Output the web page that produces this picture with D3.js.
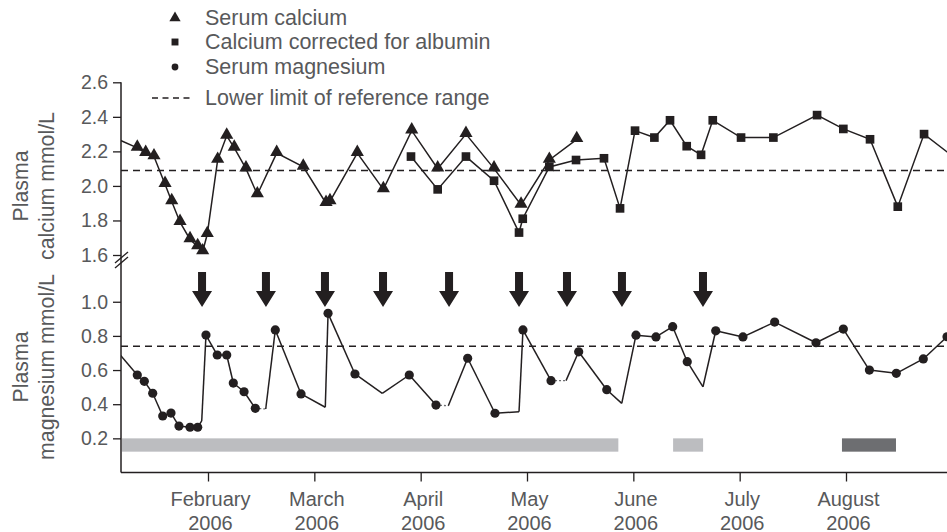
<!DOCTYPE html>
<html><head><meta charset="utf-8">
<script src="https://cdn.jsdelivr.net/npm/d3@7"></script>
<style>body{margin:0;background:#fff}svg{display:block}text{font-family:"Liberation Sans",Arial,sans-serif;fill:#58595b}</style>
</head><body><svg id="c" width="947" height="532"></svg>
<script>
// ---- data (x = month number, 2 = February 2006) ----
const monthTicks = [2,3,4,5,6,7,8];
const monthLabels = ["February","March","April","May","June","July","August"];
const yearLabel = "2006";
const caTicks = [1.6,1.8,2.0,2.2,2.4,2.6];
const mgTicks = [0.2,0.4,0.6,0.8,1.0];

const caDates  = [1.10,1.335,1.414,1.492,1.596,1.659,1.737,1.831,1.903,1.950,1.993,2.091,2.176,2.247,2.357,2.464,2.646,2.896,3.110,3.147,3.404,3.649,3.916,4.160,4.426,4.690,4.944,5.210,5.468];
const caValues = [2.285,2.22,2.19,2.17,2.01,1.91,1.79,1.69,1.65,1.62,1.72,2.15,2.29,2.22,2.10,1.95,2.19,2.11,1.90,1.91,2.19,1.98,2.32,2.10,2.30,2.10,1.89,2.15,2.27];

const corrDates  = [3.909,4.160,4.426,4.690,4.925,4.960,5.210,5.461,5.724,5.875,6.016,6.198,6.345,6.502,6.637,6.747,7.013,7.317,7.728,7.975,8.226,8.487,8.734,9.07];
const corrValues = [2.17,1.98,2.17,2.03,1.73,1.81,2.11,2.15,2.16,1.87,2.32,2.28,2.38,2.23,2.18,2.38,2.28,2.28,2.41,2.33,2.27,1.88,2.30,2.14];

const mgDates  = [1.10,1.335,1.401,1.480,1.574,1.652,1.727,1.831,1.903,1.941,1.981,2.087,2.176,2.238,2.339,2.445,2.543,2.633,2.875,3.103,3.129,3.382,3.639,3.893,4.144,4.260,4.442,4.699,4.925,4.962,5.226,5.367,5.486,5.750,5.891,6.025,6.213,6.370,6.507,6.655,6.775,7.031,7.329,7.718,7.975,8.220,8.473,8.727,8.950];
const mgValues = [0.742,0.571,0.534,0.464,0.331,0.348,0.272,0.265,0.265,0.302,0.805,0.688,0.688,0.524,0.473,0.376,0.372,0.835,0.460,0.382,0.932,0.577,0.464,0.571,0.395,0.391,0.669,0.347,0.356,0.835,0.538,0.538,0.707,0.485,0.405,0.804,0.794,0.854,0.649,0.502,0.830,0.794,0.881,0.760,0.840,0.600,0.581,0.665,0.795];
const mgMeasured = [1,1,1,1,1,1,1,1,1,0,1,1,1,1,1,1,0,1,1,0,1,1,0,1,1,0,1,1,0,1,1,0,1,1,0,1,1,1,1,0,1,1,1,1,1,1,1,1,1];
const mgDottedFrom = [15,24,30];

const arrowDates = [1.944,2.545,3.100,3.646,4.267,4.925,5.376,5.893,6.655];
const barStart = [1.191,6.374,7.962];
const barEnd   = [5.859,6.656,8.470];
const barKind  = ["light","light","dark"];

const caLowerLimit = 2.09;
const mgLowerLimit = 0.74;

const legendLabels = ["Serum calcium","Calcium corrected for albumin","Serum magnesium","Lower limit of reference range"];

// ---- layout ----
const svg = d3.select("#c");
const x = d3.scaleLinear().domain([2,8]).range([208,846]);
const X0 = 121, X1 = 947;
const yCa = d3.scaleLinear().domain([1.6,2.6]).range([255,82.3]);
const yMg = d3.scaleLinear().domain([0,1.0]).range([472.5,301.75]);
const ink = "#231f20";
const FONT = "Liberation Sans, Arial, sans-serif";

svg.append("defs").append("clipPath").attr("id","clip")
  .append("rect").attr("x",X0).attr("y",0).attr("width",X1-X0).attr("height",532);

// bars
const barColor = {light:"#bcbdc0", dark:"#6d6e71"};
svg.append("g").selectAll("rect").data(barStart).join("rect")
  .attr("x",(d)=>x(d)).attr("width",(d,i)=>x(barEnd[i])-x(d))
  .attr("y",yMg(0.2)).attr("height",yMg(0.122)-yMg(0.2))
  .attr("fill",(d,i)=>barColor[barKind[i]]);

// reference lines
[[yCa,caLowerLimit],[yMg,mgLowerLimit]].forEach(([s,v])=>{
  svg.append("line").attr("x1",X0).attr("x2",X1).attr("y1",s(v)).attr("y2",s(v))
    .attr("stroke",ink).attr("stroke-width",1.5).attr("stroke-dasharray","7,5");
});

// axes
const axG = svg.append("g");
axG.append("line").attr("x1",X0).attr("x2",X0).attr("y1",yCa(2.6)).attr("y2",yMg(0)).attr("stroke",ink).attr("stroke-width",1.5);
axG.append("line").attr("x1",X0).attr("x2",X1).attr("y1",yMg(0)).attr("y2",yMg(0)).attr("stroke",ink).attr("stroke-width",1.5);
[0,5].forEach(o=>{
  axG.append("line").attr("x1",X0-6).attr("y1",268-o).attr("x2",X0+7).attr("y2",257-o)
    .attr("stroke",ink).attr("stroke-width",1.3);
});
const yAxisCa = d3.axisLeft(yCa).tickValues(caTicks).tickFormat(d3.format(".1f")).tickSize(8).tickPadding(5);
const yAxisMg = d3.axisLeft(yMg).tickValues(mgTicks).tickFormat(d3.format(".1f")).tickSize(8).tickPadding(5);
[yAxisCa,yAxisMg].forEach(a=>{
  const g = svg.append("g").attr("transform",`translate(${X0},0)`).call(a);
  g.select(".domain").remove();
  g.selectAll("line").attr("stroke",ink).attr("stroke-width",1.3);
  g.selectAll("text").attr("font-size",19.5).attr("fill","#58595b").attr("font-family",FONT);
});
const xg = svg.append("g").attr("transform",`translate(0,${yMg(0)})`)
  .call(d3.axisBottom(x).tickValues(monthTicks).tickSize(9).tickFormat(()=>""));
xg.select(".domain").remove();
xg.selectAll("line").attr("stroke",ink).attr("stroke-width",1.3);
xg.selectAll(".tick").each(function(d,i){
  const t = d3.select(this).append("text").attr("text-anchor","middle").attr("font-size",20)
    .attr("fill","#58595b").attr("font-family",FONT);
  t.append("tspan").attr("x",2).attr("y",33).text(monthLabels[i]);
  t.append("tspan").attr("x",2).attr("y",57).text(yearLabel);
});

// y titles
function yTitle(cy, l1, l2){
  const t = svg.append("text").attr("transform",`translate(0,${cy}) rotate(-90)`)
    .attr("text-anchor","middle").attr("font-size",21.3);
  t.append("tspan").attr("x",0).attr("y",28).text(l1);
  t.append("tspan").attr("x",0).attr("y",54).text(l2);
}
yTitle(186,"Plasma","calcium mmol/L");
yTitle(367,"Plasma","magnesium mmol/L");

// data
const plot = svg.append("g").attr("clip-path","url(#clip)");
const line = d3.line();
plot.append("path").attr("d",line(caDates.map((d,i)=>[x(d),yCa(caValues[i])])))
  .attr("fill","none").attr("stroke",ink).attr("stroke-width",1.5);
plot.append("path").attr("d",line(corrDates.map((d,i)=>[x(d),yCa(corrValues[i])])))
  .attr("fill","none").attr("stroke",ink).attr("stroke-width",1.5);
for(let i=0;i<mgDates.length-1;i++){
  const dotted = mgDottedFrom.includes(i);
  plot.append("line").attr("x1",x(mgDates[i])).attr("y1",yMg(mgValues[i]))
    .attr("x2",x(mgDates[i+1])).attr("y2",yMg(mgValues[i+1]))
    .attr("stroke",dotted?"#6d6e71":ink).attr("stroke-width",dotted?1.3:1.5)
    .attr("stroke-dasharray",dotted?"2,2":null);
}
const tri = d3.symbol().type(d3.symbolTriangle).size(75);
const sq = d3.symbol().type(d3.symbolSquare).size(75);
plot.selectAll(".tri").data(caDates).join("path").attr("class","tri")
  .attr("d",tri).attr("transform",(d,i)=>`translate(${x(d)},${yCa(caValues[i])-1})`).attr("fill",ink);
plot.selectAll(".sq").data(corrDates).join("path").attr("class","sq")
  .attr("d",sq).attr("transform",(d,i)=>`translate(${x(d)},${yCa(corrValues[i])})`).attr("fill",ink);
plot.selectAll(".dot").data(mgDates.filter((d,i)=>mgMeasured[i])).join("circle").attr("class","dot")
  .attr("cx",d=>x(d)).attr("cy",d=>yMg(mgValues[mgDates.indexOf(d)])).attr("r",4.6).attr("fill",ink);

// arrows
svg.selectAll(".arr").data(arrowDates).join("path").attr("class","arr")
  .attr("transform",d=>`translate(${x(d)},${yMg(1.174)})`)
  .attr("d","M-4,0 L4,0 L4,19 L10,19 L0,35 L-10,19 L-4,19 Z").attr("fill",ink);

// legend
const lg = svg.append("g");
const rowsY = [25,49,74,105];
legendLabels.forEach((t,i)=>{
  lg.append("text").attr("x",205).attr("y",rowsY[i]).attr("font-size",21.5).text(t);
});
lg.append("path").attr("d",d3.symbol().type(d3.symbolTriangle).size(55)).attr("transform",`translate(175,${rowsY[0]-7})`).attr("fill",ink);
lg.append("path").attr("d",d3.symbol().type(d3.symbolSquare).size(48)).attr("transform",`translate(175,${rowsY[1]-7})`).attr("fill",ink);
lg.append("circle").attr("cx",175).attr("cy",rowsY[2]-7).attr("r",3.4).attr("fill",ink);
lg.append("line").attr("x1",152).attr("x2",193).attr("y1",rowsY[3]-7).attr("y2",rowsY[3]-7)
  .attr("stroke",ink).attr("stroke-width",1.5).attr("stroke-dasharray","6,4.5");
</script></body></html>
